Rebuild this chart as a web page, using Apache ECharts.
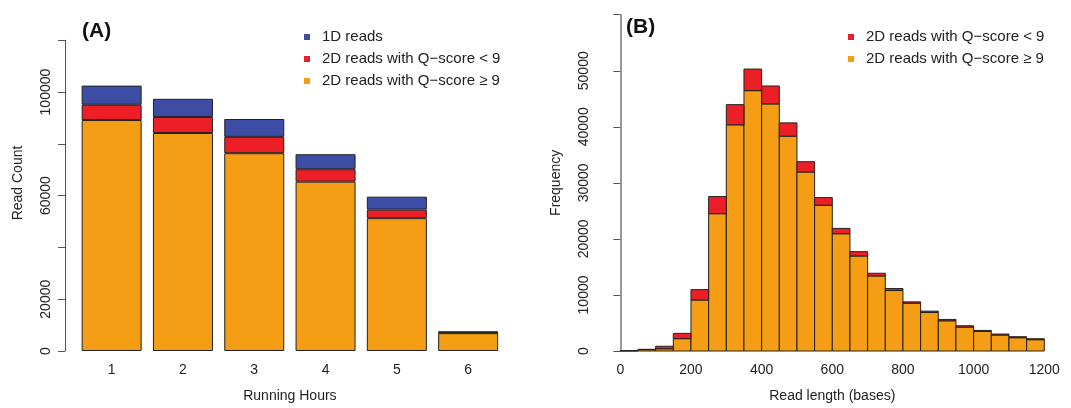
<!DOCTYPE html>
<html>
<head>
<meta charset="utf-8">
<script src="https://cdn.jsdelivr.net/npm/echarts@6/dist/echarts.min.js"></script>
<style>
  html, body { margin: 0; padding: 0; background: #fff; }
  #chart { width: 1071px; height: 408px; }
</style>
</head>
<body>
<div id="chart"></div>
<script>
// panel A: reads per running hour
const hours = ['1', '2', '3', '4', '5', '6']
const hiQ2D = [89200, 84200, 76400, 65400, 51300, 6900]
const loQ2D = [5900, 6200, 6300, 4800, 3300, 150]
const reads1D = [7400, 7000, 6900, 5800, 5000, 550]

// panel B: read length histogram, 50-base bins
const binStart = [0, 50, 100, 150, 200, 250, 300, 350, 400, 450, 500, 550,
  600, 650, 700, 750, 800, 850, 900, 950, 1000, 1050, 1100, 1150]
const hiQLen = [50, 250, 400, 2200, 9100, 24500, 40350, 46450, 44080, 38330, 31930, 26010,
  20920, 16950, 13390, 10790, 8530, 6870, 5390, 4270, 3500, 2850, 2370, 2020]
const loQLen = [0, 50, 450, 950, 1850, 3050, 3600, 3850, 3200, 2370, 1840, 1360,
  950, 770, 480, 350, 240, 240, 240, 230, 170, 170, 180, 170]
const binWidth = 50

const lenTicks = [0, 200, 400, 600, 800, 1000, 1200]
const countTicksA = [0, 20000, 60000, 100000]

const nameHi = '2D reads with Q\u2212score \u2265 9'
const nameLo = '2D reads with Q\u2212score < 9'
const name1D = '1D reads'

const cBlue = '#3d4ca4'
const cRed = '#ec1f26'
const cOrange = '#f59e15'
const font = 'Liberation Sans, Arial, Helvetica, sans-serif'

const hiData = binStart.map((s, i) => [s, s + binWidth, 0, hiQLen[i]])
const loData = binStart.map((s, i) => [s, s + binWidth, hiQLen[i], hiQLen[i] + loQLen[i]])

function histRect(params, api) {
  const p0 = api.coord([api.value(0), api.value(3)])
  const p1 = api.coord([api.value(1), api.value(2)])
  return {
    type: 'rect',
    shape: { x: p0[0], y: p0[1], width: p1[0] - p0[0], height: p1[1] - p0[1] },
    style: { fill: api.visual('color'), stroke: '#222', lineWidth: 1 }
  }
}

const legendText = { fontSize: 15, color: '#222', lineHeight: 16, padding: [0, 0, 0, 7], fontFamily: font }

const myChart = echarts.init(document.getElementById('chart'), null, { renderer: 'canvas' })

const option = {
  animation: false,
  textStyle: { fontFamily: font },
  grid: [
    { left: 76, width: 427.8, top: 40.3, height: 312 },
    { left: 620.3, width: 424, top: 14.7, height: 337.6 }
  ],
  legend: [
    {
      orient: 'vertical',
      left: 299,
      top: 24,
      icon: 'rect',
      itemWidth: 6,
      itemHeight: 6,
      itemGap: 6,
      selectedMode: false,
      itemStyle: { borderWidth: 0 },
      data: [name1D, nameLo, nameHi],
      textStyle: legendText
    },
    {
      orient: 'vertical',
      left: 843,
      top: 24,
      icon: 'rect',
      itemWidth: 6,
      itemHeight: 6,
      itemGap: 6,
      selectedMode: false,
      itemStyle: { borderWidth: 0 },
      data: [nameLo, nameHi],
      textStyle: legendText
    }
  ],
  xAxis: [
    {
      gridIndex: 0,
      type: 'category',
      data: hours,
      axisLine: { show: false },
      axisTick: { show: false },
      axisLabel: { fontSize: 14, color: '#222', margin: 12 },
      name: 'Running Hours',
      nameLocation: 'middle',
      nameGap: 38,
      nameTextStyle: { fontSize: 14, color: '#222' }
    },
    {
      gridIndex: 1,
      type: 'value',
      min: 0,
      max: 1200,
      interval: 200,
      splitLine: { show: false },
      axisLine: { show: false },
      axisTick: { show: false },
      axisLabel: {
        fontSize: 14, color: '#222', margin: 12,
        formatter: v => lenTicks.includes(v) ? String(v) : ''
      },
      name: 'Read length (bases)',
      nameLocation: 'middle',
      nameGap: 38,
      nameTextStyle: { fontSize: 14, color: '#222' }
    }
  ],
  yAxis: [
    {
      gridIndex: 0,
      type: 'value',
      min: 0,
      max: 120000,
      interval: 20000,
      offset: 11,
      splitLine: { show: false },
      axisLine: { show: true, lineStyle: { color: '#555', width: 1 } },
      axisTick: { show: true, length: 7, lineStyle: { color: '#555' } },
      axisLabel: {
        fontSize: 14, color: '#222', rotate: 90, margin: 12,
        formatter: v => countTicksA.includes(v) ? String(v) : ''
      }
    },
    {
      gridIndex: 1,
      type: 'value',
      min: 0,
      max: 60000,
      interval: 10000,
      offset: 17,
      splitLine: { show: false },
      axisLine: { show: true, lineStyle: { color: '#777', width: 1.5 } },
      axisTick: { show: true, length: 7, lineStyle: { color: '#555' } },
      axisLabel: {
        fontSize: 14, color: '#222', rotate: 90, margin: 12,
        formatter: v => v === 60000 ? '' : String(v)
      },
      name: 'Frequency',
      nameLocation: 'middle',
      nameGap: 40,
      nameTextStyle: { fontSize: 14, color: '#222' }
    }
  ],
  graphic: [
    { type: 'text', left: 82, top: 21, style: { text: '(A)', font: 'bold 21px ' + font, fill: '#111' } },
    { type: 'text', left: 626, top: 17, style: { text: '(B)', font: 'bold 21px ' + font, fill: '#111' } },
    {
      type: 'text', x: 18, y: 183, rotation: Math.PI / 2,
      style: { text: 'Read Count', font: '14px ' + font, fill: '#222', align: 'center', verticalAlign: 'middle' }
    }
  ],
  series: [
    {
      name: nameHi, type: 'bar', stack: 'a', xAxisIndex: 0, yAxisIndex: 0,
      barWidth: 60, data: hiQ2D,
      itemStyle: { color: cOrange, borderColor: '#222', borderWidth: 1 }
    },
    {
      name: nameLo, type: 'bar', stack: 'a', xAxisIndex: 0, yAxisIndex: 0,
      barWidth: 60, data: loQ2D,
      itemStyle: { color: cRed, borderColor: '#222', borderWidth: 1 }
    },
    {
      name: name1D, type: 'bar', stack: 'a', xAxisIndex: 0, yAxisIndex: 0,
      barWidth: 60, data: reads1D,
      itemStyle: { color: cBlue, borderColor: '#222', borderWidth: 1 }
    },
    {
      name: nameHi, type: 'custom', xAxisIndex: 1, yAxisIndex: 1,
      renderItem: histRect, data: hiData,
      encode: { x: [0, 1], y: [2, 3] },
      itemStyle: { color: cOrange }
    },
    {
      name: nameLo, type: 'custom', xAxisIndex: 1, yAxisIndex: 1,
      renderItem: histRect, data: loData,
      encode: { x: [0, 1], y: [2, 3] },
      itemStyle: { color: cRed }
    }
  ]
}

myChart.setOption(option)
window.addEventListener('resize', function() {
  myChart.resize()
})
</script>
</body>
</html>
